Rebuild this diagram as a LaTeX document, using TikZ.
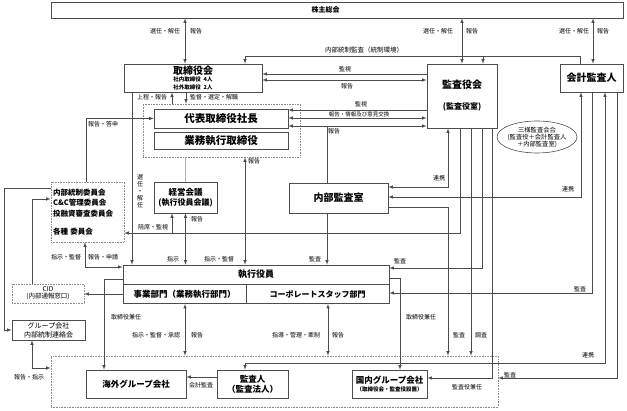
\documentclass[tikz,border=0pt]{standalone}
\usepackage{fontspec}
\setmainfont{Noto Sans CJK JP}
\usetikzlibrary{shapes.geometric}
\definecolor{linec}{gray}{0.3}
\definecolor{dotc}{gray}{0.55}

\begin{document}
\begin{tikzpicture}[x=1pt, y=-1pt,
		>=latex,
		box/.style={draw=linec, line width=0.6pt, align=center, inner sep=1pt},
		dotbox/.style={draw=dotc, densely dotted, line width=0.6pt, align=center, inner sep=1pt},
		lab/.style={font=\fontsize{6}{7}\selectfont, inner sep=0pt, text=black},
		con/.style={draw=linec, line width=0.6pt},
		ttl/.style={font=\fontsize{#1}{#1}\selectfont\bfseries}
	]
	\useasboundingbox (0,0) rectangle (627,411);

	% boxes
	\node[box, minimum width=572pt, minimum height=16pt, ttl=7] (kabu) at (337,10) {株主総会\hspace*{23pt}};

	\node[box, minimum width=138pt, minimum height=28pt,
		font=\fontsize{5.5}{7.5}\selectfont\bfseries] (tor) at (193,78)
	{{\fontsize{10}{10}\selectfont 取締役会}\\
		社内取締役\enspace 4人\\
		社外取締役\enspace 2人};
	\node[box, minimum width=70pt, minimum height=64pt,
		font=\fontsize{8}{9}\selectfont\bfseries] (kan) at (462,96)
	{{\fontsize{10}{10}\selectfont 監査役会}\\[12pt] (監査役室)};
	\node[box, minimum width=63pt, minimum height=28pt, ttl=10] (kai) at (591.5,78) {会計監査人};

	\node[dotbox, minimum width=157pt, minimum height=53pt] (grp) at (221.5,130.5) {};
	\node[box, minimum width=134pt, minimum height=19pt, ttl=10.5] (pres) at (221,118.5) {代表取締役社長};
	\node[box, minimum width=134pt, minimum height=17pt, ttl=10.5] (exd) at (221,140.5) {業務執行取締役};

	\node[dotbox, minimum width=73pt, minimum height=60pt, text width=69pt, align=left,
		inner xsep=2pt, font=\fontsize{7.5}{10.5}\selectfont\bfseries] (cmt) at (87.5,212)
	{内部統制委員会\\C\&C管理委員会\\投融資審査委員会\\[8pt]各種\ 委員会};
	\node[box, minimum width=63pt, minimum height=31pt,
		font=\fontsize{8}{10}\selectfont\bfseries] (keiei) at (185.5,197.5)
	{{\fontsize{8.5}{10}\selectfont 経営会議}\\(執行役員会議)};
	\node[box, minimum width=99pt, minimum height=30pt, ttl=10] (naibu) at (338.5,198) {内部監査室};

	\node[ellipse, draw=linec, line width=0.6pt, minimum width=80pt, minimum height=32pt] (ell) at (537,137) {};
	\node[align=center, inner sep=0pt, font=\fontsize{6.3}{7}\selectfont] (elltxt) at (ell)
	{三様監査会合\\(監査役＋会計監査人\\＋内部監査室)};

	\node[box, minimum width=266pt, minimum height=19pt, ttl=9] (exe) at (256,274.5) {執行役員};
	\node[box, minimum width=123pt, minimum height=19pt, anchor=north west, ttl=8.5] (biz) at (exe.south west) {事業部門（業務執行部門）};
	\node[box, minimum width=143pt, minimum height=19pt, anchor=north east, ttl=8] (corp) at (exe.south east) {コーポレートスタッフ部門};

	\node[dotbox, minimum width=72pt, minimum height=19pt, font=\fontsize{6.5}{7}\selectfont] (cid) at (48,293.5) {CID\\(内部通報窓口)};
	\node[box, minimum width=73pt, minimum height=20pt, font=\fontsize{7}{9}\selectfont] (gic) at (48.5,330) {グループ会社\\内部統制連絡会};

	\node[dotbox, minimum width=447pt, minimum height=51pt] (area) at (274.5,381.5) {};
	\node[box, minimum width=100pt, minimum height=28pt, ttl=8.5] (kaigai) at (136,384) {海外グループ会社};
	\node[box, minimum width=71pt, minimum height=28pt,
		font=\fontsize{8.5}{10}\selectfont\bfseries] (kansanin) at (252.5,384) {監査人\\（監査法人）};
	\node[box, minimum width=75pt, minimum height=28pt,
		font=\fontsize{5.5}{8}\selectfont\bfseries] (kokunai) at (389.5,384)
	{{\fontsize{8.5}{9}\selectfont 国内グループ会社}\\（取締役会・監査役設置）};

	% junctions
	\coordinate (ic) at (245,56);
	\coordinate (bj) at (172,233);
	\coordinate (lw) at (4,188);
	\coordinate (lk) at (245,363);

	% shareholders
	\draw[con, <->] (kabu.south -| 185,0) -- (tor.north -| 185,0);
	\draw[con, <->] (kabu.south -| 462,0) -- (kan.north -| 462,0);
	\draw[con, <->] (kabu.south -| 593,0) -- (kai.north -| 593,0);
	\draw[con, ->] (kai.north -| 580,0) |- (ic) -- (tor.north -| ic);
	\draw[con, ->] (ic -| 483,0) -- (kan.north -| 483,0);

	% board and auditors
	\draw[con, ->] (kan.west |- 0,74) -- (tor.east |- 0,74);
	\draw[con, <->] (tor.east |- 0,80) -- (kan.west |- 0,80);
	\draw[con, ->] (kan.west |- 0,110) -- (pres.east |- 0,110);
	\draw[con, <->] (pres.east |- 0,118) -- (kan.west |- 0,118);
	\draw[con, <->] (pres.east |- 0,126) -- (kan.west |- 0,126);
	\draw[con] (naibu.north -| 327,0) -- (327,126);

	\draw[con, ->] (tor.south -| 132,0) -- (exe.north -| 132,0);
	\draw[con, ->] (grp.north -| 172,0) -- (tor.south -| 172,0);
	\draw[con, ->] (tor.south -| 186,0) -- (grp.north -| 186,0);
	\draw[con, ->] (cmt.north -| 86,0) |- (pres.west);
	\draw[gray!60, line width=0.6pt] (grp.south -| keiei.north) -- (keiei.north);
	\draw[con, <->] (keiei.south) -- (exe.north -| keiei.south);
	\draw[con, <->] (grp.south -| 245,0) -- (exe.north -| 245,0);
	\draw[con, ->] (naibu.south -| 327,0) -- (exe.north -| 327,0);

	% audit lines
	\draw[con, ->] (kan.south -| 460,0) |- (cmt.east |- bj);
	\draw[con, ->] (bj) -- (keiei.south -| bj);
	\draw[con, <->] (naibu.east |- 0,187) -| (kan.south -| 448,0);
	\draw[con, <->] (naibu.east |- 0,197) -| (kai.south -| 581,0);
	\draw[con, ->] (naibu.east |- 0,207) -| (area.north -| 448,0);
	\draw[con, ->] (kan.south -| 471,0) -- (area.north -| 471,0);
	\draw[con, ->] (kan.south -| 482,0) |- (exe.east |- 0,268);
	\draw[con, ->] (kan.south -| 492,0) |- (kokunai.east |- 0,378);
	\draw[con, ->] (kai.south -| 592,0) |- (corp.east |- 0,293);
	\draw[con, <->] (kai.south -| 605,0) |- (lk) -- (kansanin.north -| lk);
	\draw[con, ->] (kai.south -| 617,0) |- (area.east |- 0,378);

	% executive side
	\draw[con, <->] (biz.south -| 185,0) -- (area.north -| 185,0);
	\draw[con, <->] (corp.south -| 328,0) -- (area.north -| 328,0);
	\draw[con, ->] (exe.west |- 0,279) -| (kaigai.north -| 104,0);
	\draw[con, ->] (exe.east |- 0,278) -| (kokunai.north -| 400,0);
	\draw[con, ->] (biz.west |- 0,294) -- (cid.east |- 0,294);
	\draw[con, <->] (cmt.south -| 85,0) |- (exe.west |- 0,267);
	\draw[con, ->] (cmt.west |- lw) -- (lw) |- (gic.west);
	\draw[con, ->] (cid.north -| 32,0) |- (cmt.west |- 0,199);
	\draw[con, <->] (gic.south -| 32,0) |- (area.west |- 0,368);
	\draw[con, ->] (kansanin.west |- 0,377) -- (kaigai.east |- 0,377);

	% labels
	\foreach \x/\y/\txt [count=\i] in {165/31/選任・解任, 196/31/報告, 438/31/選任・解任, 472/31/報告,
			574/31/選任・解任, 603/31/報告, 345/69/監視, 347/86/報告, 361/104/監視, 334/131/報告,
			152/97/上程・報告, 214/97/監督・選定・解職, 103/124/報告・答申, 254/161/報告,
			197/219/報告, 153/227/陪席・監視, 439/178/連携, 568/189/連携, 66/257/指示・監督,
			103/257/報告・申請, 173/259/指示, 219/259/指示・監督, 315/259/監査, 400/261/監査,
			580/289/監査, 126/317/取締役兼任, 421/317/取締役兼任, 156/335/指示・監督・承認,
			197/335/報告, 296/335/指導・管理・牽制, 338/335/報告, 459/335/監査, 481/335/調査,
			588/355/連携, 510/375/監査, 467/387/監査役兼任, 201/385/会計監査, 29/377/報告・指示}
		\node[lab] (lb\i) at (\x,\y) {\txt};
	\node[lab, font=\fontsize{6.5}{7}\selectfont] (lbic) at (364,50) {内部統制監査（統制環境）};
	\node[lab, font=\fontsize{5.5}{6}\selectfont] (lbex) at (359,114) {報告・情報及び意見交換};
	\node[lab, align=center] (lbsen) at (140,191) {選\\任\\・\\解\\任};
\end{tikzpicture}
\end{document}
